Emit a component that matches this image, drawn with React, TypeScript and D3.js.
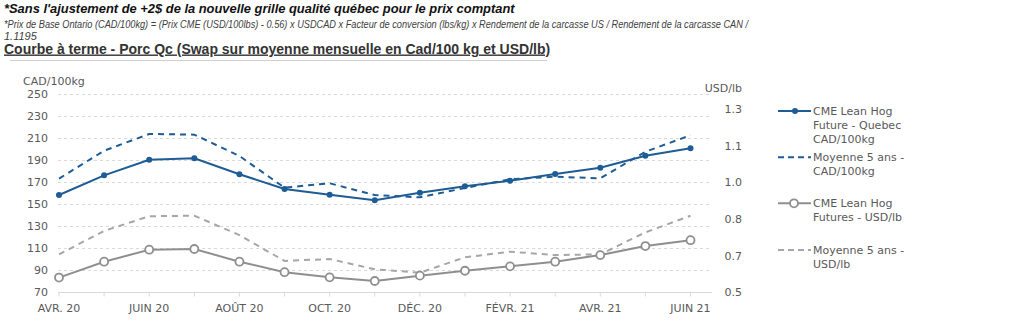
import React from "react";
import * as d3 from "d3";

const months = ["AVR. 20","MAI 20","JUIN 20","JUIL. 20","AOÛT 20","SEPT. 20","OCT. 20","NOV. 20","DÉC. 20","JANV. 21","FÉVR. 21","MARS 21","AVR. 21","MAI 21","JUIN 21"];
const shownMonthLabels = ["AVR. 20","JUIN 20","AOÛT 20","OCT. 20","DÉC. 20","FÉVR. 21","AVR. 21","JUIN 21"];

const cmeQuebecCad = [158.6,176.5,190.7,192,177.5,164.1,158.9,153.8,160.7,166.5,171.6,177.7,183.5,194.4,201.1];
const avg5yCad = [173.5,198.9,214.1,213.5,194.1,165.3,169.3,158.6,156.5,165,172.9,175.3,173.8,198,212.9];
const cmeUsdLb = [0.561,0.626,0.675,0.678,0.626,0.583,0.562,0.547,0.569,0.589,0.607,0.626,0.653,0.690,0.714];
const avg5yUsdLb = [0.656,0.752,0.812,0.814,0.735,0.629,0.637,0.595,0.581,0.644,0.667,0.653,0.656,0.746,0.814];

const leftTicks = [70,90,110,130,150,170,190,210,230,250];
const rightTicks = [0.5,0.65,0.8,0.95,1.1,1.25];
const rightTickLabels = ["0.5","0.7","0.8","1.0","1.1","1.3"];

const headerLine1 = "*Sans l'ajustement de +2$ de la nouvelle grille qualité québec pour le prix comptant";
const headerLine2 = "*Prix de Base Ontario (CAD/100kg) = (Prix CME (USD/100lbs) - 0.56) x USDCAD x Facteur de conversion (lbs/kg) x Rendement de la carcasse US / Rendement de la carcasse CAN /";
const headerLine3 = "1.1195";
const title = "Courbe à terme - Porc Qc (Swap sur moyenne mensuelle en Cad/100 kg et USD/lb)";

const legendItems = [
  { lines: ["CME Lean Hog", "Future - Quebec", "CAD/100kg"], kind: "blueSolid" },
  { lines: ["Moyenne 5 ans -", "CAD/100kg"], kind: "blueDash" },
  { lines: ["CME Lean Hog", "Futures - USD/lb"], kind: "graySolid" },
  { lines: ["Moyenne 5 ans -", "USD/lb"], kind: "grayDash" },
];

const BLUE = "#1d5c94";
const GRAY = "#8f8f8f";
const GRAY_DASH = "#a6a6a6";
const TXT = "#595959";
const CHART_FONT = "'DejaVu Sans', sans-serif";
const NARROW = "'Liberation Sans Narrow', 'Arial Narrow', 'Liberation Sans', sans-serif";

export default function App() {
  const x = d3.scalePoint<string>().domain(months).range([59, 690.5]);
  const yL = d3.scaleLinear().domain([70, 250]).range([292.5, 94.5]);
  const yR = d3.scaleLinear().domain([0.5, 1.31]).range([292.5, 94.5]);
  const plotLeft = 58;
  const plotRight = 712;

  const lineL = d3.line<number>().x((_, i) => x(months[i])!).y((d) => yL(d));
  const lineR = d3.line<number>().x((_, i) => x(months[i])!).y((d) => yR(d));

  const legendTop = [111, 157.3, 203.3, 250];
  const lh = 14.2;

  return (
    <svg width={1024} height={321} style={{ position: "absolute", left: 0, top: 0, background: "#fff" }}>
      <g fontFamily="'Liberation Sans', Arial, sans-serif">
        <text x={4} y={13.3} fontSize={12.9} fontWeight="bold" fontStyle="italic" fill="#111">{headerLine1}</text>
        <text x={4} y={28} fontSize={11.5} fontFamily={NARROW} fontStyle="italic" fill="#404040" textLength={744} lengthAdjust="spacingAndGlyphs">{headerLine2}</text>
        <text x={4} y={39.8} fontSize={11} fontFamily={NARROW} fontStyle="italic" fill="#404040">{headerLine3}</text>
        <text x={4} y={53.5} fontSize={14} fontWeight="bold" fill="#333" textDecoration="underline">{title}</text>
      </g>
      <line x1={10} x2={547} y1={60.5} y2={60.5} stroke="#d0d0d0" strokeWidth={1} />

      <g fontFamily={CHART_FONT} fontSize={11} fill={TXT}>
        {leftTicks.slice(1).map((t) => (
          <line key={"g" + t} x1={plotLeft} x2={plotRight} y1={yL(t)} y2={yL(t)} stroke="#d9d9d9" strokeDasharray="3,3" strokeWidth={1} />
        ))}
        <line x1={plotLeft} x2={plotRight} y1={yL(70)} y2={yL(70)} stroke="#d9d9d9" strokeWidth={1} />
        {months.map((m) => (
          <line key={"t" + m} x1={x(m)!} x2={x(m)!} y1={yL(70)} y2={yL(70) + 4} stroke="#d9d9d9" strokeWidth={1} />
        ))}
        {leftTicks.map((t) => (
          <text key={"l" + t} x={48} y={yL(t)} dy="0.35em" textAnchor="end">{t}</text>
        ))}
        {rightTicks.map((t, i) => (
          <text key={"r" + t} x={742} y={yR(t)} dy="0.35em" textAnchor="end">{rightTickLabels[i]}</text>
        ))}
        <text x={23} y={85}>CAD/100kg</text>
        <text x={742} y={92} textAnchor="end">USD/lb</text>
        {shownMonthLabels.map((m) => (
          <text key={"x" + m} x={x(m)!} y={311.5} textAnchor="middle">{m}</text>
        ))}

        <path d={lineR(avg5yUsdLb)!} fill="none" stroke={GRAY_DASH} strokeWidth={2} strokeDasharray="6,5" />
        <path d={lineR(cmeUsdLb)!} fill="none" stroke={GRAY} strokeWidth={2} />
        {cmeUsdLb.map((v, i) => (
          <circle key={"c" + i} cx={x(months[i])!} cy={yR(v)} r={4} fill="#fff" stroke={GRAY} strokeWidth={1.8} />
        ))}
        <path d={lineL(avg5yCad)!} fill="none" stroke={BLUE} strokeWidth={2} strokeDasharray="6,5" />
        <path d={lineL(cmeQuebecCad)!} fill="none" stroke={BLUE} strokeWidth={2} />
        {cmeQuebecCad.map((v, i) => (
          <circle key={"b" + i} cx={x(months[i])!} cy={yL(v)} r={3} fill={BLUE} />
        ))}

        {legendItems.map((it, k) => {
          const y0 = legendTop[k];
          const isBlue = it.kind.startsWith("blue");
          const dashed = it.kind.endsWith("Dash");
          const col = isBlue ? BLUE : dashed ? GRAY_DASH : GRAY;
          return (
            <g key={"lg" + k}>
              <line x1={778} x2={811} y1={y0} y2={y0} stroke={col} strokeWidth={2} strokeDasharray={dashed ? "6,4" : undefined} />
              {it.kind === "blueSolid" && <circle cx={795} cy={y0} r={3} fill={BLUE} />}
              {it.kind === "graySolid" && <circle cx={794} cy={y0} r={4} fill="#fff" stroke={GRAY} strokeWidth={1.8} />}
              {it.lines.map((ln, j) => (
                <text key={j} x={813} y={y0 + j * lh} dy="0.35em">{ln}</text>
              ))}
            </g>
          );
        })}
      </g>
    </svg>
  );
}
